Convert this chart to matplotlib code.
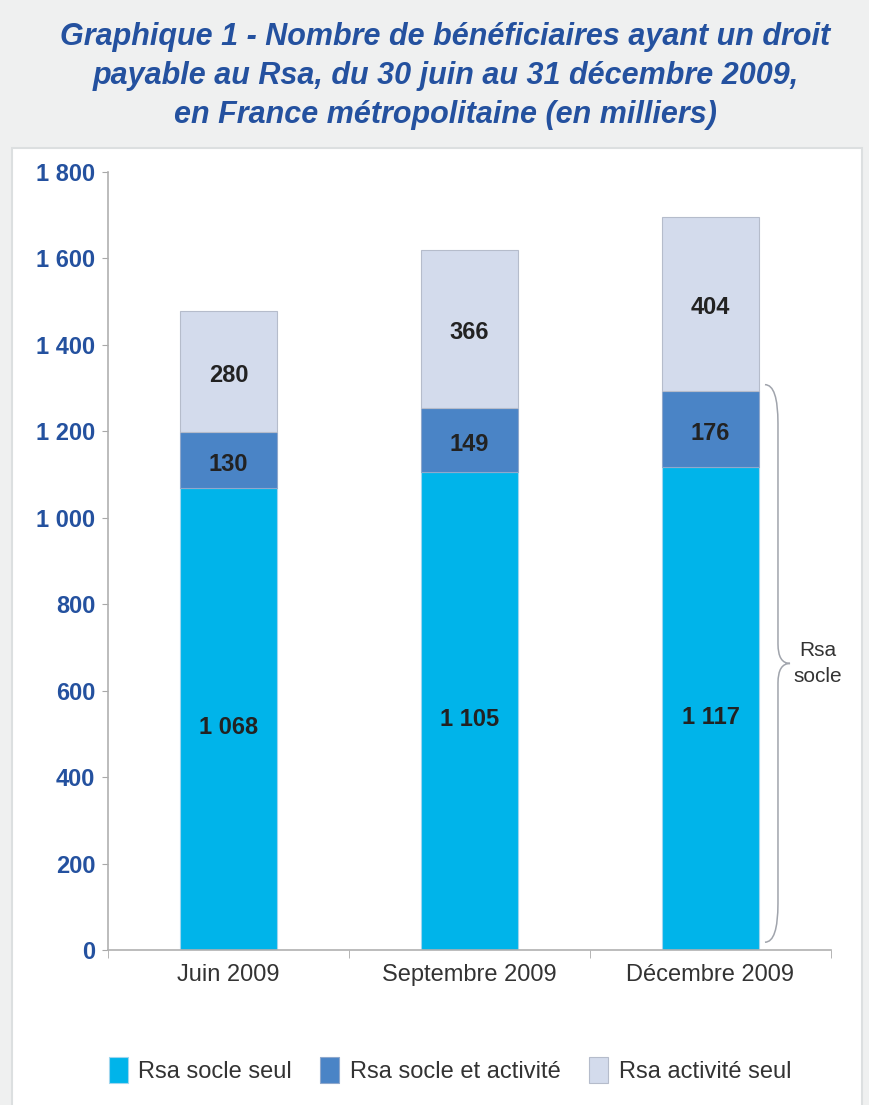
import numpy as np
import matplotlib
matplotlib.use("Agg")
from matplotlib import pyplot as plt
from matplotlib.patches import Rectangle, PathPatch
from matplotlib.path import Path

plt.rcParams['font.family'] = ['Liberation Sans', 'DejaVu Sans']

categories = ["Juin 2009", "Septembre 2009", "Décembre 2009"]
socle_seul = [1068, 1105, 1117]
socle_activite = [130, 149, 176]
activite_seul = [280, 366, 404]
series_names = ["Rsa socle seul", "Rsa socle et activité", "Rsa activité seul"]
yticks = [0, 200, 400, 600, 800, 1000, 1200, 1400, 1600, 1800]

colors = ["#00b4ea", "#4a84c6", "#d3dbec"]
blue_txt = "#24519f"


def fmt(v):
    return "{:,}".format(v).replace(",", " ")


fig = plt.figure(figsize=(8.7, 11.05), dpi=100)
fig.patch.set_facecolor("#eff0f0")

# white panel
panel = Rectangle((12 / 870, -0.01), 850 / 870, 1.01 - 148 / 1105, transform=fig.transFigure,
                  facecolor="white", edgecolor="#dcdfe0", linewidth=1.5, zorder=-10)
fig.patches.append(panel)

fig.text(0.512, 1 - 76 / 1105,
         "Graphique 1 - Nombre de bénéficiaires ayant un droit\n"
         "payable au Rsa, du 30 juin au 31 décembre 2009,\n"
         "en France métropolitaine (en milliers)",
         ha="center", va="center", fontsize=22, fontweight="bold", fontstyle="italic",
         color=blue_txt, linespacing=1.4)

ax = fig.add_axes([108 / 870, 1 - 950 / 1105, 723 / 870, 778 / 1105])
ax.set_facecolor("none")

x = np.arange(len(categories))
w = 0.4
s1 = np.array(socle_seul)
s2 = np.array(socle_activite)
s3 = np.array(activite_seul)
b1 = ax.bar(x, s1, w, color=colors[0], edgecolor="#9fd6ee", linewidth=0.8, label=series_names[0])
b2 = ax.bar(x, s2, w, bottom=s1, color=colors[1], edgecolor="#8fa8cc", linewidth=0.8, label=series_names[1])
b3 = ax.bar(x, s3, w, bottom=s1 + s2, color=colors[2], edgecolor="#b5bccb", linewidth=0.8, label=series_names[2])

off = 9
for i in range(len(categories)):
    ax.text(x[i], s1[i] * 0.49 - off, fmt(s1[i]), ha="center", va="center",
            fontsize=17, fontweight="bold", color="#222222")
    ax.text(x[i], s1[i] + s2[i] / 2 - off, fmt(s2[i]), ha="center", va="center",
            fontsize=17, fontweight="bold", color="#222222")
    ax.text(x[i], s1[i] + s2[i] + s3[i] / 2 - off, fmt(s3[i]), ha="center", va="center",
            fontsize=17, fontweight="bold", color="#222222")

ax.set_xlim(-0.5, 2.5)
ax.set_ylim(0, 1800)
ax.set_yticks(yticks)
ax.set_yticklabels([fmt(v) for v in yticks], fontsize=17, fontweight="bold", color=blue_txt)
ax.set_xticks(x)
ax.set_xticklabels(categories, fontsize=17, color="#333333")
ax.set_xticks([-0.5, 0.5, 1.5, 2.5], minor=True)
ax.tick_params(axis="x", which="major", length=0, pad=10)
ax.tick_params(axis="x", which="minor", length=6, color="#a8a8a8", direction="out")
ax.tick_params(axis="y", length=4, color="#a8a8a8", direction="out", pad=5)
for side in ["top", "right"]:
    ax.spines[side].set_visible(False)
for side in ["left", "bottom"]:
    ax.spines[side].set_color("#b0b0b0")
    ax.spines[side].set_linewidth(1.2)

# brace for "Rsa socle"
y0 = 18
y1 = socle_seul[2] + socle_activite[2] + 15
ym = (y0 + y1) / 2
xl, xm, xt = 2.226, 2.28, 2.33
r = 90
rm = 45
verts = [(xl, y1), (xm, y1), (xm, y1 - r),
         (xm, ym + rm), (xm, ym), (xt, ym),
         (xm, ym), (xm, ym - rm),
         (xm, y0 + r), (xm, y0), (xl, y0)]
codes = [Path.MOVETO, Path.CURVE3, Path.CURVE3,
         Path.LINETO, Path.CURVE3, Path.CURVE3,
         Path.CURVE3, Path.CURVE3,
         Path.LINETO, Path.CURVE3, Path.CURVE3]
brace = PathPatch(Path(verts, codes), facecolor="none", edgecolor="#a0a4ac",
                  linewidth=1.1, clip_on=False)
ax.add_patch(brace)
ax.text(2.446, ym, "Rsa\nsocle", ha="center", va="center", fontsize=15,
        color="#333333", linespacing=1.45, clip_on=False)

fig.legend(handles=[b1, b2, b3], labels=series_names, loc="center",
           bbox_to_anchor=(450 / 870, 1 - 1070 / 1105), ncol=3, frameon=False,
           handlelength=0.8, handleheight=1.3, handletextpad=0.45,
           columnspacing=1.2, prop={'size': 17})
for t in fig.legends[0].get_texts():
    t.set_color("#333333")

fig.savefig("out.png", dpi=100, facecolor=fig.get_facecolor())
